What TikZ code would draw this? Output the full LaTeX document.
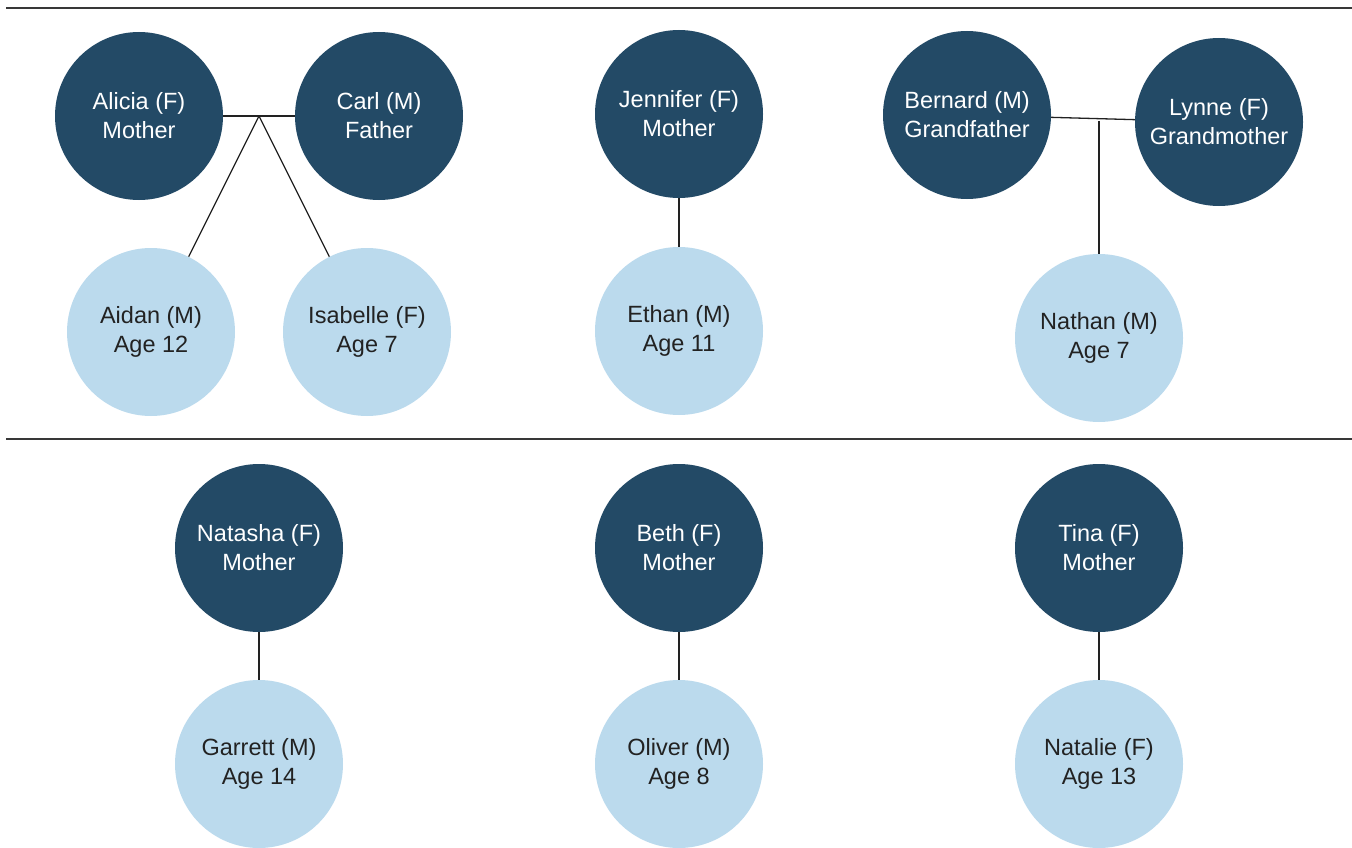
\documentclass[tikz,border=0pt]{standalone}
\usepackage{fontspec}
\setmainfont{Liberation Sans}
\definecolor{darkblue}{HTML}{234A66}
\definecolor{lightblue}{HTML}{BBDAED}
\definecolor{ink}{HTML}{222222}
\begin{document}
\begin{tikzpicture}[x=1pt,y=-1pt,
  person/.style={circle,minimum size=168pt,inner sep=0pt,align=center,font=\fontsize{23.5}{29}\selectfont},
  parent/.style={person,fill=darkblue,text=white},
  child/.style={person,fill=lightblue,text=ink},
  link/.style={draw=ink,line width=1.3pt},
  rule/.style={draw=ink!90,line width=1.8pt}]
\useasboundingbox (0,0) rectangle (1352,848);
\coordinate (r1a) at (6,8);
\coordinate (r1b) at (1352,8);
\coordinate (r2a) at (6,439);
\coordinate (r2b) at (1352,439);
\draw[rule] (r1a) -- (r1b);
\draw[rule] (r2a) -- (r2b);
% group 1
\node[parent] (alicia) at (139,116) {Alicia (F)\\Mother};
\node[parent] (carl) at (379,116) {Carl (M)\\Father};
\node[child] (aidan) at (151,332) {Aidan (M)\\Age 12};
\node[child] (isabelle) at (367,332) {Isabelle (F)\\Age 7};
\coordinate (j1) at (259,116);
\draw[link] (alicia) -- (carl);
\draw[link] (j1) -- (aidan);
\draw[link] (j1) -- (isabelle);
% group 2
\node[parent] (jennifer) at (679,114) {Jennifer (F)\\Mother};
\node[child] (ethan) at (679,331) {Ethan (M)\\Age 11};
\draw[link] (jennifer) -- (ethan);
% group 3
\node[parent] (bernard) at (967,115) {Bernard (M)\\Grandfather};
\node[parent] (lynne) at (1219,122) {Lynne (F)\\Grandmother};
\node[child] (nathan) at (1099,338) {Nathan (M)\\Age 7};
\coordinate (j2) at (1099,121);
\draw[link] (bernard) -- (lynne);
\draw[link] (j2) -- (nathan.north);
% row 2
\node[parent] (natasha) at (259,548) {Natasha (F)\\Mother};
\node[child] (garrett) at (259,764) {Garrett (M)\\Age 14};
\draw[link] (natasha) -- (garrett);
\node[parent] (beth) at (679,548) {Beth (F)\\Mother};
\node[child] (oliver) at (679,764) {Oliver (M)\\Age 8};
\draw[link] (beth) -- (oliver);
\node[parent] (tina) at (1099,548) {Tina (F)\\Mother};
\node[child] (natalie) at (1099,764) {Natalie (F)\\Age 13};
\draw[link] (tina) -- (natalie);
\end{tikzpicture}
\end{document}
